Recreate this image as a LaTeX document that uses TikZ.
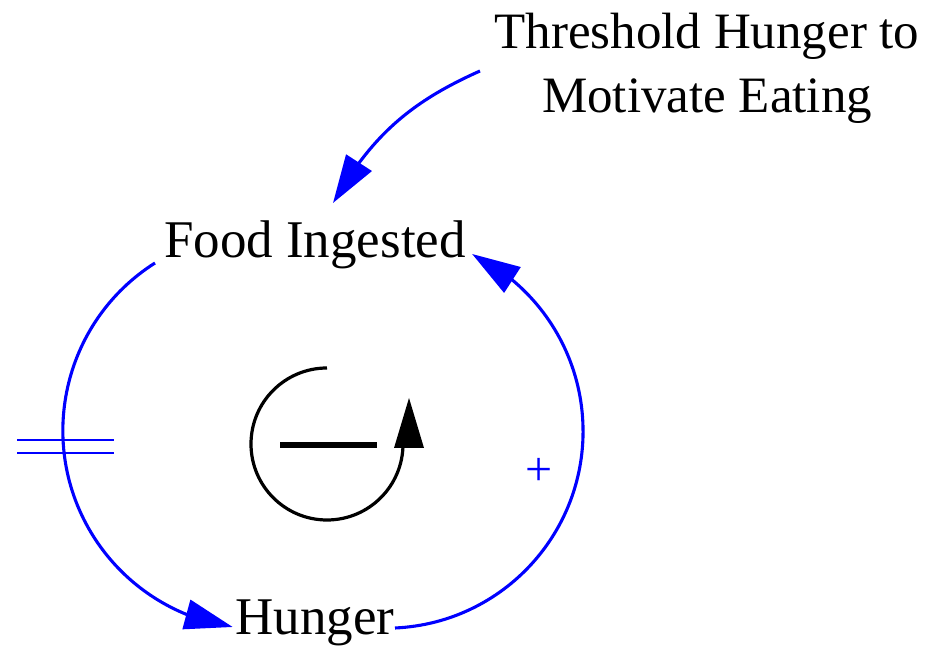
\documentclass[tikz,border=0pt]{standalone}
\usepackage{fontspec}
\setmainfont{Liberation Serif}
\usetikzlibrary{arrows.meta,bending}
\begin{document}
\begin{tikzpicture}[x=1pt,y=1pt,
  lbl/.style={font=\fontsize{53}{63}\selectfont, inner sep=0pt, anchor=base},
  link/.style={draw=blue, line width=3.1pt, -{Triangle[length=48pt,width=30pt,flex]}},
  loopline/.style={draw=black, line width=3.2pt},
  delaymark/.style={draw=blue, line width=2.8pt}
  ]
\useasboundingbox (0,0) rectangle (937,647);
% variables
\node[lbl] (food) at (315,389) {Food Ingested};
\node[lbl] (hunger) at (315,12) {Hunger};
\node[lbl, font=\fontsize{51}{64}\selectfont, align=center] (thresh) at (707,534) {Threshold Hunger to\\Motivate Eating};
% connector end points
\coordinate (ts) at (480,576);
\coordinate (tt) at (333,444);
\coordinate (fs) at (155,384);
\coordinate (hs) at (395,19);
% links
\draw[link] (ts) to[out=204,in=60] (tt);
\draw[link] (fs) arc[start angle=122.4, end angle=261.7, radius=198.5];
\draw[link] (hs) arc[start angle=-87.4, end angle=64.1, radius=197];
% delay mark
\coordinate (d1) at (17,207);
\coordinate (d2) at (17,194);
\draw[delaymark] (d1) -- ++(97,0);
\draw[delaymark] (d2) -- ++(97,0);
% polarity
\node[text=blue, font=\fontsize{48}{50}\selectfont, inner sep=0pt] (plus) at (539,175) {+};
% loop symbol
\coordinate (lc) at (327,203);
\draw[loopline] (327,279) arc[start angle=90, end angle=360, radius=76];
\fill[black] (394,199) -- (424,199) -- (409,249) -- cycle;
\draw[line width=6pt] (280,202) -- (377,202);
\end{tikzpicture}
\end{document}
